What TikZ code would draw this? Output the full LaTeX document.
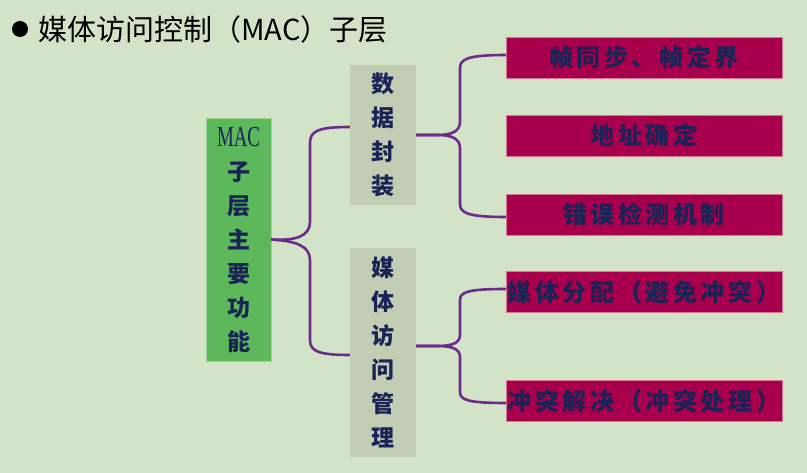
\documentclass[tikz,border=0pt]{standalone}
\usepackage{fontspec}
\setmainfont{Liberation Serif}
\newfontfamily\cjk{Noto Sans CJK SC}
\newfontfamily\cjkbox{Noto Sans CJK SC}[LetterSpace=15]
\usepackage{xcolor}
\usetikzlibrary{positioning}

\definecolor{bgcol}{RGB}{211,227,200}
\definecolor{macgreen}{RGB}{92,184,90}
\definecolor{midgray}{RGB}{194,205,180}
\definecolor{leafred}{RGB}{168,0,76}
\definecolor{leafline}{RGB}{214,120,150}
\definecolor{bracecol}{RGB}{108,44,138}
\definecolor{txtblue}{RGB}{25,35,85}

\begin{document}
\begin{tikzpicture}[x=1pt, y=-1pt,
    mainbox/.style={rectangle, fill=macgreen, draw=macgreen!60!white, minimum width=65pt, minimum height=243pt, inner sep=0pt, text=txtblue, align=center, font=\cjk\bfseries\fontsize{23}{34}\selectfont},
    midbox/.style={rectangle, fill=midgray, minimum width=66pt, inner sep=0pt, text=txtblue, align=center, font=\cjk\bfseries\fontsize{23}{34}\selectfont},
    leafbox/.style={rectangle, fill=leafred, draw=leafline, minimum width=276pt, minimum height=41pt, inner sep=0pt, text=txtblue, font=\cjkbox\bfseries\fontsize{24}{24}\selectfont},
    brace/.style={draw=bracecol, line width=2.6pt}]

    % background and margins
    \fill[bgcol] (0,0) rectangle (807,473);
    \useasboundingbox (0,0) rectangle (807,473);

    % title
    \node (dot) [circle, fill=black, minimum size=16pt, inner sep=0pt] at (20,29) {};
    \node (title) [right=10pt of dot, inner sep=0pt, font=\cjk\fontsize{29}{29}\selectfont] {媒体访问控制（MAC）子层};

    % boxes
    \node (mac) [mainbox] at (238.5,239.5) {\scalebox{0.65}[1]{\fontsize{29}{34}\selectfont\rmfamily\mdseries MAC}\\子\\层\\主\\要\\功\\能};
    \node (data) [midbox, minimum height=140pt] at (383,135) {数\\据\\封\\装};
    \node (media) [midbox, minimum height=209pt] at (383,352.5) {媒\\体\\访\\问\\管\\理};

    \node (frame) [leafbox] at (644,57.5) {帧同步、帧定界};
    \node (addr) [leafbox] at (644,135.5) {地址确定};
    \node (err) [leafbox] at (644,214.5) {错误检测机制};
    \node (alloc) [leafbox] at (644,292) {媒体分配（避免冲突）};
    \node (coll) [leafbox] at (644,401) {冲突解决（冲突处理）};

    % braces
    \draw[brace] (mac.east) .. controls (296,241) and (310,236) .. (310,222) -- (310,143)
        .. controls (310,131) and (318,127) .. ([yshift=8pt]data.west);
    \draw[brace] (mac.east) .. controls (296,241) and (310,246) .. (310,260) -- (310,340)
        .. controls (310,351) and (318,355) .. ([yshift=-2.5pt]media.west);

    \draw[brace] (data.east) -- (438,135) .. controls (452,135) and (460,131) .. (460,122) -- (460,68)
        .. controls (460,59) and (468,55) .. ([yshift=2.5pt]frame.west);
    \draw[brace] (data.east) -- (438,135) .. controls (452,135) and (460,139) .. (460,148) -- (460,204)
        .. controls (460,213) and (468,217) .. ([yshift=-2.5pt]err.west);

    \draw[brace] ([yshift=6.5pt]media.east) -- (438,346) .. controls (452,346) and (460,343) .. (460,335) -- (460,300)
        .. controls (460,292) and (468,289) .. ([yshift=3pt]alloc.west);
    \draw[brace] ([yshift=6.5pt]media.east) -- (438,346) .. controls (452,346) and (460,349) .. (460,357) -- (460,392)
        .. controls (460,400) and (468,403) .. ([yshift=-2pt]coll.west);
\end{tikzpicture}
\end{document}
